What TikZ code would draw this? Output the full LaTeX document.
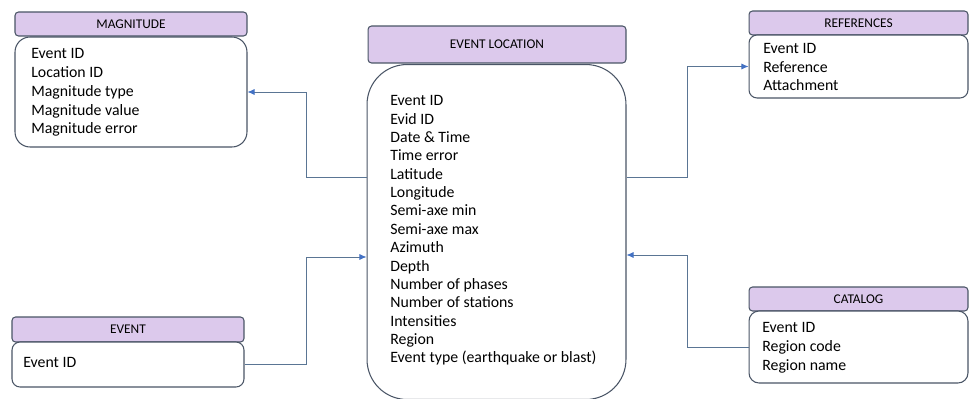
\documentclass[tikz,border=0pt]{standalone}
\usepackage{fontspec}
\setmainfont{Carlito}
\usepackage{tikz}
\usetikzlibrary{arrows.meta}
\definecolor{hdcolor}{HTML}{DCC9EC}
\definecolor{edgecolor}{HTML}{4A5566}
\definecolor{linkcolor}{HTML}{5A7594}
\definecolor{tipcolor}{HTML}{4472C4}

\begin{document}
\begin{tikzpicture}[x=0.02cm, y=-0.02cm,
  hd/.style={draw=edgecolor, fill=hdcolor, rounded corners=2pt, minimum height=0.48cm, font=\fontsize{7.6}{8}\selectfont, inner sep=0pt, line width=0.6pt},
  bd/.style={draw=edgecolor, fill=white, inner sep=0pt, line width=0.6pt},
  tx/.style={anchor=west, align=left, inner sep=0pt, font=\fontsize{9}{10.7}\selectfont},
  link/.style={draw=linkcolor, line width=0.5pt, -{Latex[length=4pt,width=3.5pt,color=tipcolor]}}
]
\useasboundingbox (0,0) rectangle (971,399);

% ===== MAGNITUDE =====
\node[hd, minimum width=4.64cm] (maghd) at (131,24) {MAGNITUDE};
\node[bd, rounded corners=0.3cm, minimum width=4.64cm, minimum height=2.2cm] (magbody) at (131,92) {};
\node[tx] (magtxt) at (31,92.5) {Event ID\\Location ID\\Magnitude type\\Magnitude value\\Magnitude error};

% ===== EVENT LOCATION =====
\node[hd, minimum width=5.16cm, minimum height=0.74cm] (lochd) at (497,44.5) {EVENT LOCATION};
\node[bd, rounded corners=0.8cm, minimum width=5.18cm, minimum height=6.7cm] (locbody) at (496.5,232) {};
\node[tx, font=\fontsize{9}{10.45}\selectfont] (loctxt) at (390,230.5) {Event ID\\Evid ID\\Date \& Time\\Time error\\Latitude\\Longitude\\Semi-axe min\\Semi-axe max\\Azimuth\\Depth\\Number of phases\\Number of stations\\Intensities\\Region\\Event type (earthquake or blast)};

% ===== REFERENCES =====
\node[hd, minimum width=4.38cm] (refhd) at (858.5,23) {REFERENCES};
\node[bd, rounded corners=0.16cm, minimum width=4.38cm, minimum height=1.26cm] (refbody) at (858.5,66.5) {};
\node[tx] (reftxt) at (763,67) {Event ID\\Reference\\Attachment};

% ===== CATALOG =====
\node[hd, minimum width=4.38cm] (cathd) at (858.5,299) {CATALOG};
\node[bd, rounded corners=0.2cm, minimum width=4.38cm, minimum height=1.44cm] (catbody) at (858.5,347) {};
\node[tx] (cattxt) at (762,348) {Event ID\\Region code\\Region name};

% ===== EVENT =====
\node[hd, minimum width=4.64cm, minimum height=0.5cm] (evhd) at (128,329.5) {EVENT};
\node[bd, rounded corners=0.16cm, minimum width=4.64cm, minimum height=0.9cm] (evbody) at (128,364.5) {};
\node[tx] (evtxt) at (23,362) {Event ID};

% connectors
\draw[link] ([yshift=1.1cm]locbody.west) -- ++(-60,0) |- (magbody.east);
\draw[link] (evbody.east) -- ++(62,0) |- ([yshift=-0.5cm]locbody.west);
\draw[link] ([yshift=1.1cm]locbody.east) -- ++(61,0) |- (refbody.west);
\draw[link] (catbody.west) -- ++(-61,0) |- ([yshift=-0.46cm]locbody.east);

\end{tikzpicture}
\end{document}
